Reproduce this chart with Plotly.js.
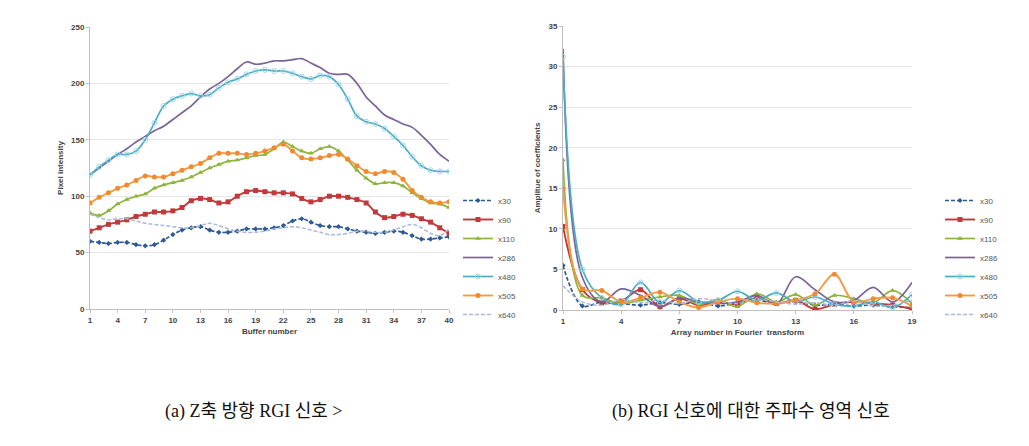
<!DOCTYPE html>
<html>
<head>
<meta charset="utf-8">
<script src="https://cdn.plot.ly/plotly-3.0.1.min.js"></script>
<style>html,body{margin:0;padding:0;background:#fff;}#chart{width:1029px;height:446px;}</style>
</head>
<body>
<div id="chart"></div>
<script>
// ---- Data: (a) RGI signal along Z axis ----
const bufferNumbers = Array.from({length: 40}, (_, i) => i + 1);
const bufferTicks = [1,4,7,10,13,16,19,22,25,28,31,34,37,40];

const a_x30  = [60,59,58,59,59,57,56,57,61,66,70,72,73,70,68,68,69,71,71,71,72,74,78,80,77,74,73,73,71,69,68,67,68,69,68,65,62,62,63,64];
const a_x90  = [69,72,75,77,79,82,84,86,86,87,90,96,98,97,94,95,100,104,105,104,103,103,102,98,95,97,100,100,99,97,94,86,81,82,84,83,80,77,72,67];
const a_x110 = [85,83,87,93,97,100,102,107,110,112,114,117,121,125,128,131,132,134,136,137,142,148,144,140,138,142,144,140,132,123,116,111,112,112,109,103,98,94,93,90];
const a_x286 = [119,125,131,137,142,148,153,158,162,168,174,180,188,195,200,206,213,219,217,218,220,220,221,222,218,214,209,208,208,200,188,180,172,168,164,161,154,146,137,131];
const a_x480 = [119,126,132,137,137,140,150,165,180,186,189,191,189,190,196,201,204,208,211,212,211,211,209,206,204,207,206,199,186,171,166,164,160,153,145,135,127,123,122,122];
const a_x505 = [94,99,103,107,110,114,118,117,117,120,123,126,129,134,138,138,138,137,138,140,143,146,140,134,133,134,136,137,133,127,122,120,122,121,115,105,99,95,94,95];
const a_x640 = [84,81,79,80,80,78,76,75,74,73,72,72,74,76,74,71,69,68,68,69,71,72,73,72,70,68,66,66,67,69,69,68,68,70,73,75,72,67,65,71];

// ---- Data: (b) Fourier-domain signal ----
const arrayNumbers = Array.from({length: 19}, (_, i) => i + 1);
const arrayTicks = [1,4,7,10,13,16,19];

const b_x30  = [5.5,0.5,1.0,0.8,0.6,0.9,0.7,1.0,0.5,0.9,1.2,0.8,1.0,0.6,0.7,0.5,0.6,0.4,0.3];
const b_x90  = [10.3,2.5,0.9,1.1,2.5,0.4,1.4,0.6,1.0,0.7,1.5,0.8,1.2,0.1,0.7,1.0,0.8,0.6,0.1];
const b_x110 = [18.5,1.8,1.5,0.8,1.2,1.6,1.8,0.7,1.3,0.4,2.0,1.0,1.9,0.6,1.8,1.4,0.9,2.4,0.8];
const b_x286 = [32.2,4.0,1.0,2.6,1.8,0.4,1.5,1.0,0.8,1.0,1.8,0.7,4.1,2.5,1.0,1.2,2.8,1.0,3.4];
const b_x480 = [31.2,5.0,1.5,0.7,3.4,0.9,2.4,1.0,1.2,2.3,1.2,2.1,1.0,1.6,0.7,0.5,1.0,0.3,1.9];
const b_x505 = [15.0,2.6,2.4,1.0,1.5,2.2,1.0,0.3,1.0,1.4,0.9,0.8,1.2,2.0,4.4,1.0,1.4,1.5,0.5];
const b_x640 = [3.0,1.0,0.6,1.3,0.9,1.2,0.8,1.4,1.1,0.8,1.3,1.0,0.7,0.9,0.6,1.1,0.5,0.6,1.2];

const seriesNames = ['x30','x90','x110','x286','x480','x505','x640'];

// ---- Styles ----
const styles = {
  x30:  {line:{color:'#2E5A94', width:1.7, dash:'4px,2px', shape:'spline'}, marker:{symbol:'diamond', size:4, color:'#2E5A94'}, mode:'lines+markers'},
  x90:  {line:{color:'#C0393B', width:1.9, shape:'spline'}, marker:{symbol:'square', size:5, color:'#C0393B'}, mode:'lines+markers'},
  x110: {line:{color:'#8DB53C', width:1.7, shape:'spline'}, marker:{symbol:'triangle-up', size:5, color:'#8DB53C'}, mode:'lines+markers'},
  x286: {line:{color:'#7A6399', width:1.7, shape:'spline'}, marker:{size:3, color:'#7A6399'}, mode:'lines'},
  x480: {line:{color:'#4BACC6', width:1.7, shape:'spline'}, marker:{symbol:'circle-open', size:5, color:'#9ED8E6'}, mode:'lines+markers'},
  x505: {line:{color:'#F59A45', width:1.9, shape:'spline'}, marker:{symbol:'circle', size:5, color:'#F08A2E'}, mode:'lines+markers'},
  x640: {line:{color:'#A9B9DC', width:1.5, dash:'4px,2px', shape:'spline'}, marker:{size:3, color:'#A9B9DC'}, mode:'lines'}
};

const aData = [a_x30,a_x90,a_x110,a_x286,a_x480,a_x505,a_x640];
const bData = [b_x30,b_x90,b_x110,b_x286,b_x480,b_x505,b_x640];

const traces = [];
seriesNames.forEach((n, i) => {
  const s = styles[n];
  traces.push(Object.assign({type:'scatter', name:n, x:bufferNumbers, y:aData[i], xaxis:'x', yaxis:'y', legend:'legend'}, JSON.parse(JSON.stringify(s))));
});
seriesNames.forEach((n, i) => {
  const s = styles[n];
  traces.push(Object.assign({type:'scatter', name:n, x:arrayNumbers, y:bData[i], xaxis:'x2', yaxis:'y2', legend:'legend2'}, JSON.parse(JSON.stringify(s))));
});

const tickFont = {family:'Liberation Sans, Arial, sans-serif', size:8, color:'#444', weight:'bold'};
const titleFont = {family:'Liberation Sans, Arial, sans-serif', size:8, color:'#444', weight:'bold'};
const legendFont = {family:'Liberation Sans, Arial, sans-serif', size:8, color:'#555'};

const W = 1029, H = 446;
const commonX = {showgrid:false, zeroline:false, showline:true, linecolor:'#BFBFBF', linewidth:1, ticks:'outside', ticklen:3, tickcolor:'#BFBFBF', tickfont:tickFont, tickmode:'array'};
const commonY = {showgrid:true, gridcolor:'#E6E6E6', gridwidth:1, zeroline:false, showline:true, linecolor:'#BFBFBF', linewidth:1, ticks:'outside', ticklen:3, tickcolor:'#BFBFBF', tickfont:tickFont};

const layout = {
  width: W, height: H,
  margin: {l:0, r:0, t:0, b:0},
  paper_bgcolor:'#fff', plot_bgcolor:'#fff',
  showlegend: true,
  xaxis: Object.assign({}, commonX, {domain:[90/W, 449/W], range:[1,40], tickvals:bufferTicks, anchor:'y',
    title:{text:'Buffer number', font:titleFont, standoff:4}}),
  yaxis: Object.assign({}, commonY, {domain:[(H-309)/H, (H-27)/H], range:[0,250], dtick:50, anchor:'x',
    title:{text:'Pixel intensity', font:titleFont, standoff:6}}),
  xaxis2: Object.assign({}, commonX, {domain:[563/W, 912/W], range:[1,19], tickvals:arrayTicks, anchor:'y2',
    title:{text:'Array number in Fourier  transform', font:titleFont, standoff:4}}),
  yaxis2: Object.assign({}, commonY, {domain:[(H-310)/H, (H-26)/H], range:[0,35], dtick:5, anchor:'x2',
    title:{text:'Amplitue of coefficients', font:titleFont, standoff:6}}),
  legend: {x:458/W, y:(H-186)/H, xanchor:'left', yanchor:'top', font:legendFont, bgcolor:'rgba(0,0,0,0)', itemwidth:30, tracegroupgap:0},
  legend2: {x:940/W, y:(H-186)/H, xanchor:'left', yanchor:'top', font:legendFont, bgcolor:'rgba(0,0,0,0)', itemwidth:30, tracegroupgap:0},
  annotations: [
    {text:'(a) Z축 방향 RGI 신호 >', xref:'paper', yref:'paper', x:253/W, y:(H-411)/H, xanchor:'center', yanchor:'middle', showarrow:false,
     font:{family:'Liberation Serif, Noto Sans CJK KR, serif', size:18, color:'#111'}},
    {text:'(b) RGI 신호에 대한 주파수 영역 신호', xref:'paper', yref:'paper', x:751/W, y:(H-411)/H, xanchor:'center', yanchor:'middle', showarrow:false,
     font:{family:'Liberation Serif, Noto Sans CJK KR, serif', size:18, color:'#111'}}
  ]
};

Plotly.newPlot('chart', traces, layout, {displayModeBar:false, staticPlot:true});
</script>
</body>
</html>
